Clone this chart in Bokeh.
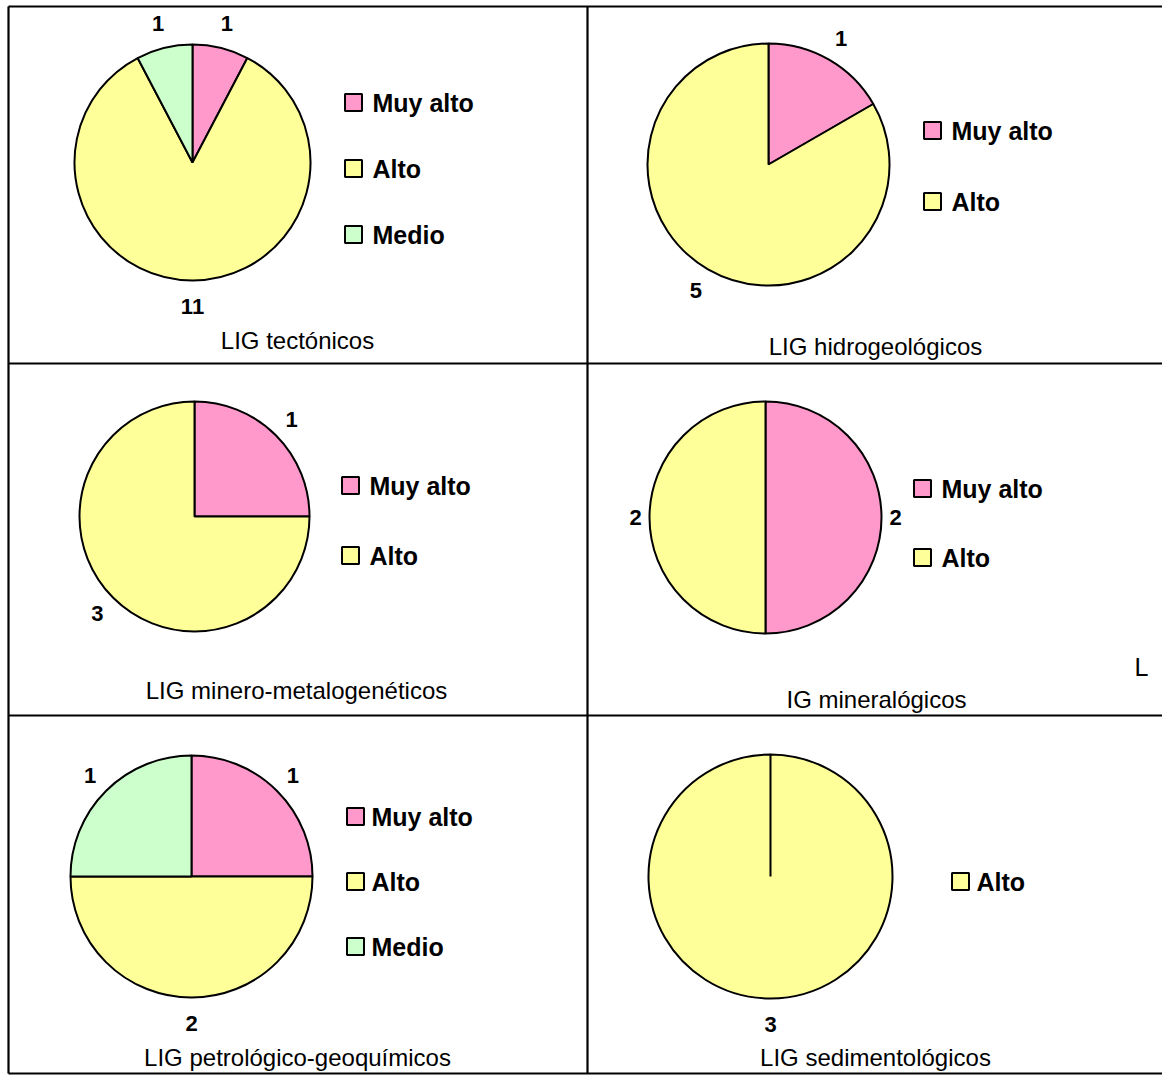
import math
from bokeh.plotting import figure
from bokeh.models import Range1d, ColumnDataSource
from bokeh.core.properties import value
from bokeh.embed import file_html
from bokeh.resources import INLINE

# ---- data -------------------------------------------------------------
categories = ["Muy alto", "Alto", "Medio"]
category_colors = ["#FF99CC", "#FFFF99", "#CCFFCC"]

titles = [
    "LIG tectónicos",
    "LIG hidrogeológicos",
    "LIG minero-metalogenéticos",
    "IG mineralógicos",
    "LIG petrológico-geoquímicos",
    "LIG sedimentológicos",
]

tectonicos = [1, 11, 1]
hidrogeologicos = [1, 5, 0]
minero_metalogeneticos = [1, 3, 0]
mineralogicos = [2, 2, 0]
petrologico_geoquimicos = [1, 2, 1]
sedimentologicos = [0, 3, 0]

series = [tectonicos, hidrogeologicos, minero_metalogeneticos,
          mineralogicos, petrologico_geoquimicos, sedimentologicos]

# ---- layout (page pixels, y measured downward) ------------------------
W, H = 1162, 1075
pie_centers = [(192, 162), (768, 164), (194, 516), (765, 517), (191, 876), (770, 876)]
pie_radii = [118, 121, 115, 116, 121, 122]
legend_pos = [  # square centre x, first row y, row spacing, text x
    (353, 102, 66, 372),
    (932, 130, 71, 951),
    (350, 485, 70, 369),
    (922, 488, 69, 941),
    (355, 816, 65, 371),
    (960, 881, 66, 976),
]
title_pos = [(297, 340), (875, 346), (296, 690), (876, 699), (297, 1057), (875, 1057)]

FONT = "'Liberation Sans', Arial, sans-serif"


def Y(y):
    return H - y


p = figure(width=W, height=H, x_range=Range1d(0, W), y_range=Range1d(0, H),
           output_backend="svg", toolbar_location=None, min_border=0,
           background_fill_color="white", border_fill_color="white")
p.axis.visible = False
p.grid.visible = False
p.outline_line_color = None

# table borders
bx0, bx1 = [8, 8, 8, 8, 8, 587], [1162, 1162, 1162, 1162, 8, 587]
by0, by1 = [6, 363, 715, 1073, 6, 6], [6, 363, 715, 1073, 1073, 1073]
p.segment(x0=bx0, y0=[Y(v) for v in by0], x1=bx1, y1=[Y(v) for v in by1],
          line_color="black", line_width=2.2)

for vals, (cx, cy), r, (lx, ly, ldy, tx), title, (ttx, tty) in zip(
        series, pie_centers, pie_radii, legend_pos, titles, title_pos):
    total = float(sum(vals))
    xs, ys, rs, starts, ends, fills = [], [], [], [], [], []
    lab_x, lab_y, lab_t = [], [], []
    cum = 0.0
    for v, c in zip(vals, category_colors):
        if v <= 0:
            continue
        a0 = math.pi / 2 - 2 * math.pi * cum / total
        a1 = math.pi / 2 - 2 * math.pi * (cum + v) / total
        if v == total:
            a1 += 1e-4
        cum += v
        xs.append(cx); ys.append(Y(cy)); rs.append(r)
        starts.append(a0); ends.append(a1); fills.append(c)
        mid = (a0 + a1) / 2
        d = r + 14 + 12 * abs(math.sin(mid))
        lab_x.append(cx + d * math.cos(mid))
        lab_y.append(Y(cy) + d * math.sin(mid))
        lab_t.append(str(v))
    src = ColumnDataSource(dict(x=xs, y=ys, r=rs, s=starts, e=ends, f=fills))
    p.wedge(x="x", y="y", radius="r", start_angle="s", end_angle="e",
            direction="clock", fill_color="f", line_color="black",
            line_width=2, source=src)
    p.text(x=lab_x, y=lab_y, text=lab_t, text_align="center",
           text_baseline="middle", text_font=value(FONT),
           text_font_style="bold", text_font_size="22px", text_color="black")

    # legend: only categories present in the series
    present = [(cat, col) for cat, col, v in zip(categories, category_colors, vals) if v > 0]
    sq_x = [lx] * len(present)
    sq_y = [Y(ly + i * ldy) for i in range(len(present))]
    p.rect(x=sq_x, y=sq_y, width=17, height=17,
           fill_color=[c for _, c in present], line_color="black", line_width=2)
    p.text(x=[tx] * len(present), y=sq_y, text=[c for c, _ in present],
           text_align="left", text_baseline="middle", text_font=value(FONT),
           text_font_style="bold", text_font_size="25px", text_color="black")

    p.text(x=[ttx], y=[Y(tty)], text=[title], text_align="center",
           text_baseline="middle", text_font=value(FONT),
           text_font_size="24px", text_color="black")

# stray letter at the right edge of the fourth cell
p.text(x=[1141], y=[Y(666)], text=["L"], text_align="center",
       text_baseline="middle", text_font=value(FONT),
       text_font_size="25px", text_color="black")

open("out.html", "w").write(file_html(p, INLINE))
